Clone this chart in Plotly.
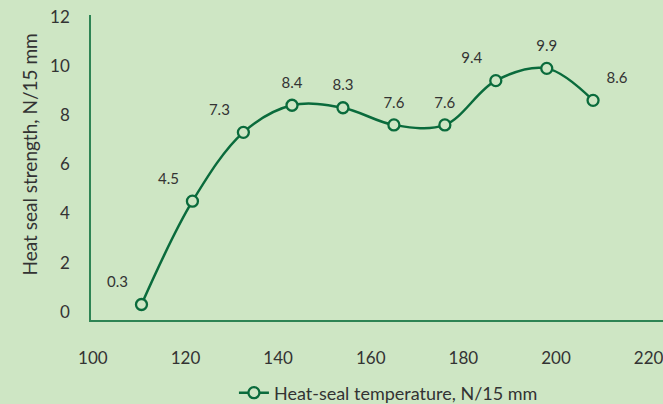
import plotly.graph_objects as go

temperature = [110.5, 121.5, 132.5, 143, 154, 165, 176, 187, 198, 208]
strength = [0.3, 4.5, 7.3, 8.4, 8.3, 7.6, 7.6, 9.4, 9.9, 8.6]
labels = ["0.3", "4.5", "7.3", "8.4", "8.3", "7.6", "7.6", "9.4", "9.9", "8.6"]
label_pos = ["top left", "top left", "top left", "top center", "top center",
             "top center", "top center", "top left", "top center", "top right"]
x_ticks = [100, 120, 140, 160, 180, 200, 220]
y_ticks = [0, 2, 4, 6, 8, 10, 12]

BG = "#cee6c4"
LINE = "#0a6b3c"
AXIS = "#2e8454"
TXT = "#333333"
FONT = "Lato"

fig = go.Figure()
fig.add_trace(go.Scatter(
    x=temperature, y=strength, mode="lines+markers",
    name="Heat-seal temperature, N/15 mm",
    line=dict(color=LINE, width=2.5, shape="spline", smoothing=1.0),
    marker=dict(symbol="circle", size=11, color=BG,
                line=dict(color=LINE, width=2.3)),
    cliponaxis=False,
))
fig.add_trace(go.Scatter(
    x=temperature, y=strength, mode="markers+text", text=labels,
    textposition=label_pos, showlegend=False, hoverinfo="skip",
    marker=dict(size=20, color="rgba(0,0,0,0)"),
    textfont=dict(family=FONT, size=15, color=TXT),
    cliponaxis=False,
))

fig.add_annotation(
    text="Heat seal strength, N/15 mm", textangle=-90,
    xref="paper", yref="paper", x=(29 - 91) / 572, y=(320 - 154.5) / 305,
    xanchor="center", yanchor="middle", showarrow=False,
    font=dict(family=FONT, size=19, color=TXT),
)

fig.update_layout(
    width=663, height=404,
    margin=dict(l=91, r=0, t=15, b=84, autoexpand=False),
    paper_bgcolor=BG, plot_bgcolor=BG,
    font=dict(family=FONT, size=17, color=TXT),
    showlegend=True,
    legend=dict(orientation="h", x=0.52, xanchor="center", y=-(393 - 320) / 305,
                yanchor="middle",
                font=dict(family=FONT, size=18, color=TXT), bgcolor="rgba(0,0,0,0)"),
    xaxis=dict(range=[99.6, 223.1], tickvals=x_ticks, showgrid=False, zeroline=False,
               showline=True, linecolor=AXIS, linewidth=2, ticks="",
               ticklabeloverflow="allow",
               ticklabelstandoff=22, tickfont=dict(family=FONT, size=17, color=TXT)),
    yaxis=dict(range=[-0.33, 12.07], tickvals=y_ticks, showgrid=False, zeroline=False,
               showline=True, linecolor=AXIS, linewidth=1.5, ticks="",
               ticklabelstandoff=16, tickfont=dict(family=FONT, size=17, color=TXT)),
)

fig.write_html("out.html", config={"displayModeBar": False},
               post_script="document.body.style.margin='0';document.body.style.overflow='hidden';")
